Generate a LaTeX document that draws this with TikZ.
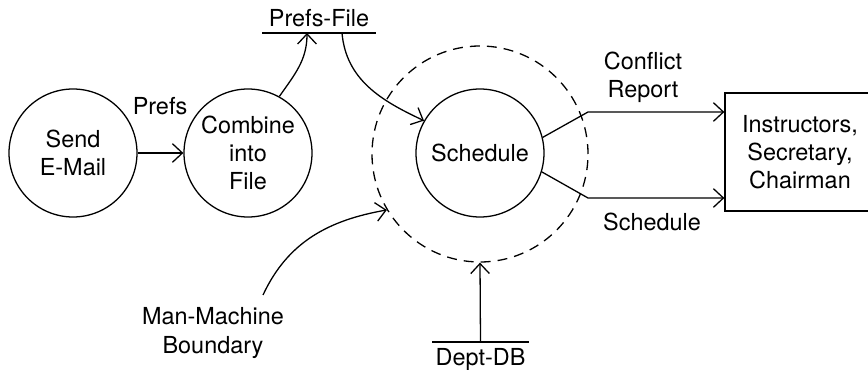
\documentclass[tikz,border=0pt]{standalone}
\usepackage{fontspec}
\setmainfont{TeX Gyre Heros}
\usepackage{tikz}
\usetikzlibrary{shapes,arrows.meta,positioning,calc}

\begin{document}
\begin{tikzpicture}[x=0.03cm, y=0.03cm, line width=1.1pt,
    every node/.style={font=\fontsize{20}{24}\selectfont, align=center},
    proc/.style={draw, circle, minimum size=3.84cm, inner sep=0pt},
    store/.style={inner xsep=0pt, inner ysep=5pt},
    flow/.style={-{Straight Barb[length=0.3cm,width=0.56cm]}}]
\useasboundingbox (0,0) rectangle (868,-370);
\node[proc] (mail) at (73,-153) {Send\\E-Mail};
\node[proc] (comb) at (248,-153) {Combine\\into\\File};
\node[proc] (sched) at (480,-153) {Schedule};
\node[draw, circle, dash pattern=on 8.5pt off 6pt, minimum size=6.48cm] (bound) at (480,-154) {};
\node[draw, minimum width=4.5cm, minimum height=3.54cm] (ppl) at (800,-152) {Instructors,\\Secretary,\\Chairman};
\node[store, minimum width=3.36cm, anchor=south] (pfile) at (319,-33) {Prefs-File};
\draw (pfile.south west) -- (pfile.south east);
\node[store, minimum width=2.85cm, anchor=north] (ddb) at (480.5,-342) {Dept-DB};
\draw (ddb.north west) -- (ddb.north east);
\node (lprefs) at (160,-106) {Prefs};
\node (lconf) at (643,-77) {Conflict\\Report};
\node (lsched) at (652,-222) {Schedule};
\node (lmmb) at (213,-333) {Man-Machine\\Boundary};
\coordinate (crk) at (588,-112);
\coordinate (srk) at (588,-198);
\coordinate (mmbend) at (263,-295);
\draw[flow] (mail) -- (comb);
\draw[flow] (comb.61) to[out=55,in=-90] ([xshift=-0.36cm]pfile.south);
\draw[flow] ([xshift=0.69cm]pfile.south) to[out=-85,in=155] (sched.150);
\draw[flow] (mmbend) to[out=65,in=190] (bound.211);
\draw[flow] (sched.14) -- (crk) -- (crk -| ppl.west);
\draw[flow] (sched.-17) -- (srk) -- (srk -| ppl.west);
\draw[flow] (ddb.north) -- (bound.south);
\end{tikzpicture}
\end{document}
